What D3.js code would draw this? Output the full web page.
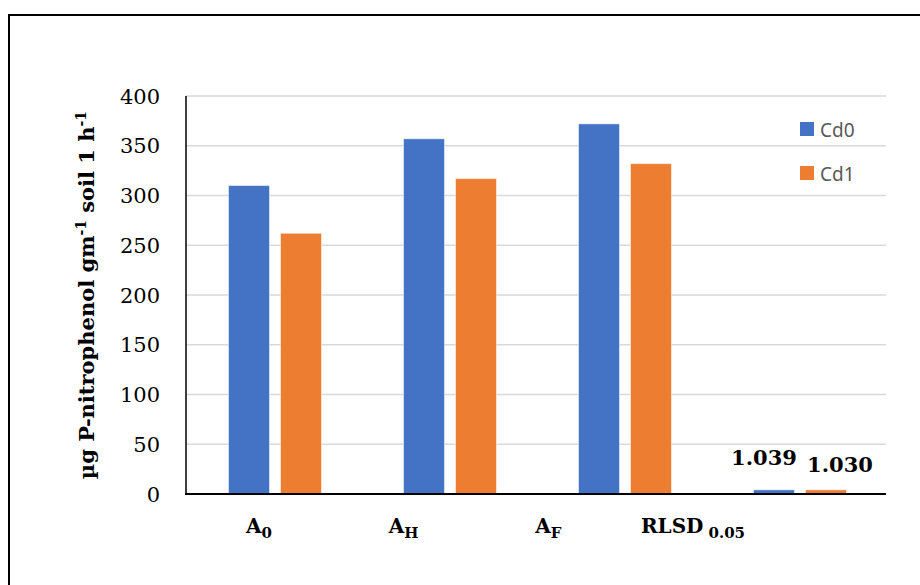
<!DOCTYPE html>
<html>
<head>
<meta charset="utf-8">
<script src="https://cdn.jsdelivr.net/npm/d3@7"></script>
<style>
  html, body { margin: 0; padding: 0; background: #ffffff; }
  svg { display: block; }
</style>
</head>
<body>
<script>
// ---- data ----
const categories = ["A0", "AH", "AF", "RLSD"];
const catMain = ["A", "A", "A", "RLSD"];
const catSub = ["0", "H", "F", "0.05"];
const seriesNames = ["Cd0", "Cd1"];
const cd0 = [310, 357, 372, 4.2];
const cd1 = [262, 317, 332, 4.2];
const rlsdLabels = ["1.039", "1.030"];
const yTicks = [0, 50, 100, 150, 200, 250, 300, 350, 400];
const colors = ["#4472C4", "#ED7D31"];

const W = 920, H = 585;
const svg = d3.select("body").append("svg").attr("width", W).attr("height", H);

// outer frame
svg.append("rect").attr("x", 9).attr("y", 15).attr("width", 940).attr("height", 600)
  .attr("fill", "none").attr("stroke", "#000").attr("stroke-width", 2);

const plot = { left: 186, right: 886, top: 96, bottom: 494 };

const x = d3.scaleBand().domain(categories).range([plot.left, plot.right]).paddingInner(0).paddingOuter(0);
const y = d3.scaleLinear().domain([0, 400]).range([plot.bottom, plot.top]);

// gridlines
svg.append("g").selectAll("line").data(yTicks.filter(d => d > 0)).join("line")
  .attr("x1", plot.left).attr("x2", plot.right)
  .attr("y1", d => y(d)).attr("y2", d => y(d))
  .attr("stroke", "#d9d9d9").attr("stroke-width", 1.5);

// y tick labels
svg.append("g").selectAll("text").data(yTicks).join("text")
  .attr("x", 160).attr("y", d => y(d) + 7.5)
  .attr("text-anchor", "end")
  .attr("font-family", "DejaVu Serif").attr("font-size", 21)
  .attr("fill", "#000").text(d => d);

// bars
const barW = 41, gap = 11;
const groupW = 2 * barW + gap;
const sub = d3.scaleBand().domain(seriesNames).range([0, groupW]).paddingInner(gap / (barW + gap)).paddingOuter(0);
const series = [cd0, cd1];
const barX = (c, si) => x(c) + x.bandwidth() / 2 - groupW / 2 + 1.5 + sub(seriesNames[si]);
series.forEach((vals, si) => {
  svg.append("g").selectAll("rect").data(categories).join("rect")
    .attr("x", (c) => barX(c, si))
    .attr("y", (c, i) => y(vals[i]))
    .attr("width", sub.bandwidth())
    .attr("height", (c, i) => y(0) - y(vals[i]))
    .attr("fill", colors[si])
    .attr("stroke", "#ffffff").attr("stroke-opacity", 0.5).attr("stroke-width", 1);
});

// axes lines
svg.append("line").attr("x1", plot.left).attr("x2", plot.left).attr("y1", plot.top).attr("y2", plot.bottom)
  .attr("stroke", "#000").attr("stroke-width", 1.5);
svg.append("line").attr("x1", plot.left - 1).attr("x2", plot.right).attr("y1", plot.bottom).attr("y2", plot.bottom)
  .attr("stroke", "#000").attr("stroke-width", 2);

// RLSD data labels
const lastCat = categories[categories.length - 1];
const lblOffsets = [{ dx: -10, dy: -25 }, { dx: 14, dy: -18 }];
[cd0, cd1].forEach((vals, si) => {
  const bx = barX(lastCat, si) + sub.bandwidth() / 2;
  svg.append("text")
    .attr("x", bx + lblOffsets[si].dx)
    .attr("y", y(vals[vals.length - 1]) + lblOffsets[si].dy)
    .attr("text-anchor", "middle")
    .attr("font-family", "DejaVu Serif").attr("font-weight", "bold").attr("font-size", 21)
    .attr("fill", "#000").text(rlsdLabels[si]);
});

// x category labels (placed text boxes below the axis)
const lx = d3.scaleLinear().domain([0, 3]).range([259, 693]);
const xl = svg.append("g").selectAll("text").data(categories).join("text")
  .attr("x", (d, i) => lx(i)).attr("y", 533)
  .attr("text-anchor", "middle")
  .attr("font-family", "DejaVu Serif").attr("font-weight", "bold").attr("font-size", 20)
  .attr("fill", "#000");
xl.append("tspan").text((d, i) => catMain[i]);
xl.append("tspan").attr("dy", 5).attr("dx", (d, i) => i === 3 ? 5 : 0)
  .attr("font-size", 15).text((d, i) => catSub[i]);

// y axis title
const yt = svg.append("text")
  .attr("transform", "translate(94,295) rotate(-90)")
  .attr("text-anchor", "middle")
  .attr("font-family", "DejaVu Serif").attr("font-weight", "bold").attr("font-size", 21)
  .attr("fill", "#000");
yt.append("tspan").text("µg P-nitrophenol gm");
yt.append("tspan").attr("dy", -8).attr("font-size", 14).text("-1");
yt.append("tspan").attr("dy", 8).text(" soil 1 h");
yt.append("tspan").attr("dy", -8).attr("font-size", 14).text("-1");

// legend
const lg = svg.append("g");
seriesNames.forEach((s, i) => {
  lg.append("rect").attr("x", 800).attr("y", 122 + i * 44).attr("width", 14).attr("height", 14).attr("fill", colors[i]);
  lg.append("text").attr("x", 820).attr("y", 137 + i * 44)
    .attr("font-family", "Noto Sans").attr("font-size", 19).attr("fill", "#595959").text(s);
});
</script>
</body>
</html>
